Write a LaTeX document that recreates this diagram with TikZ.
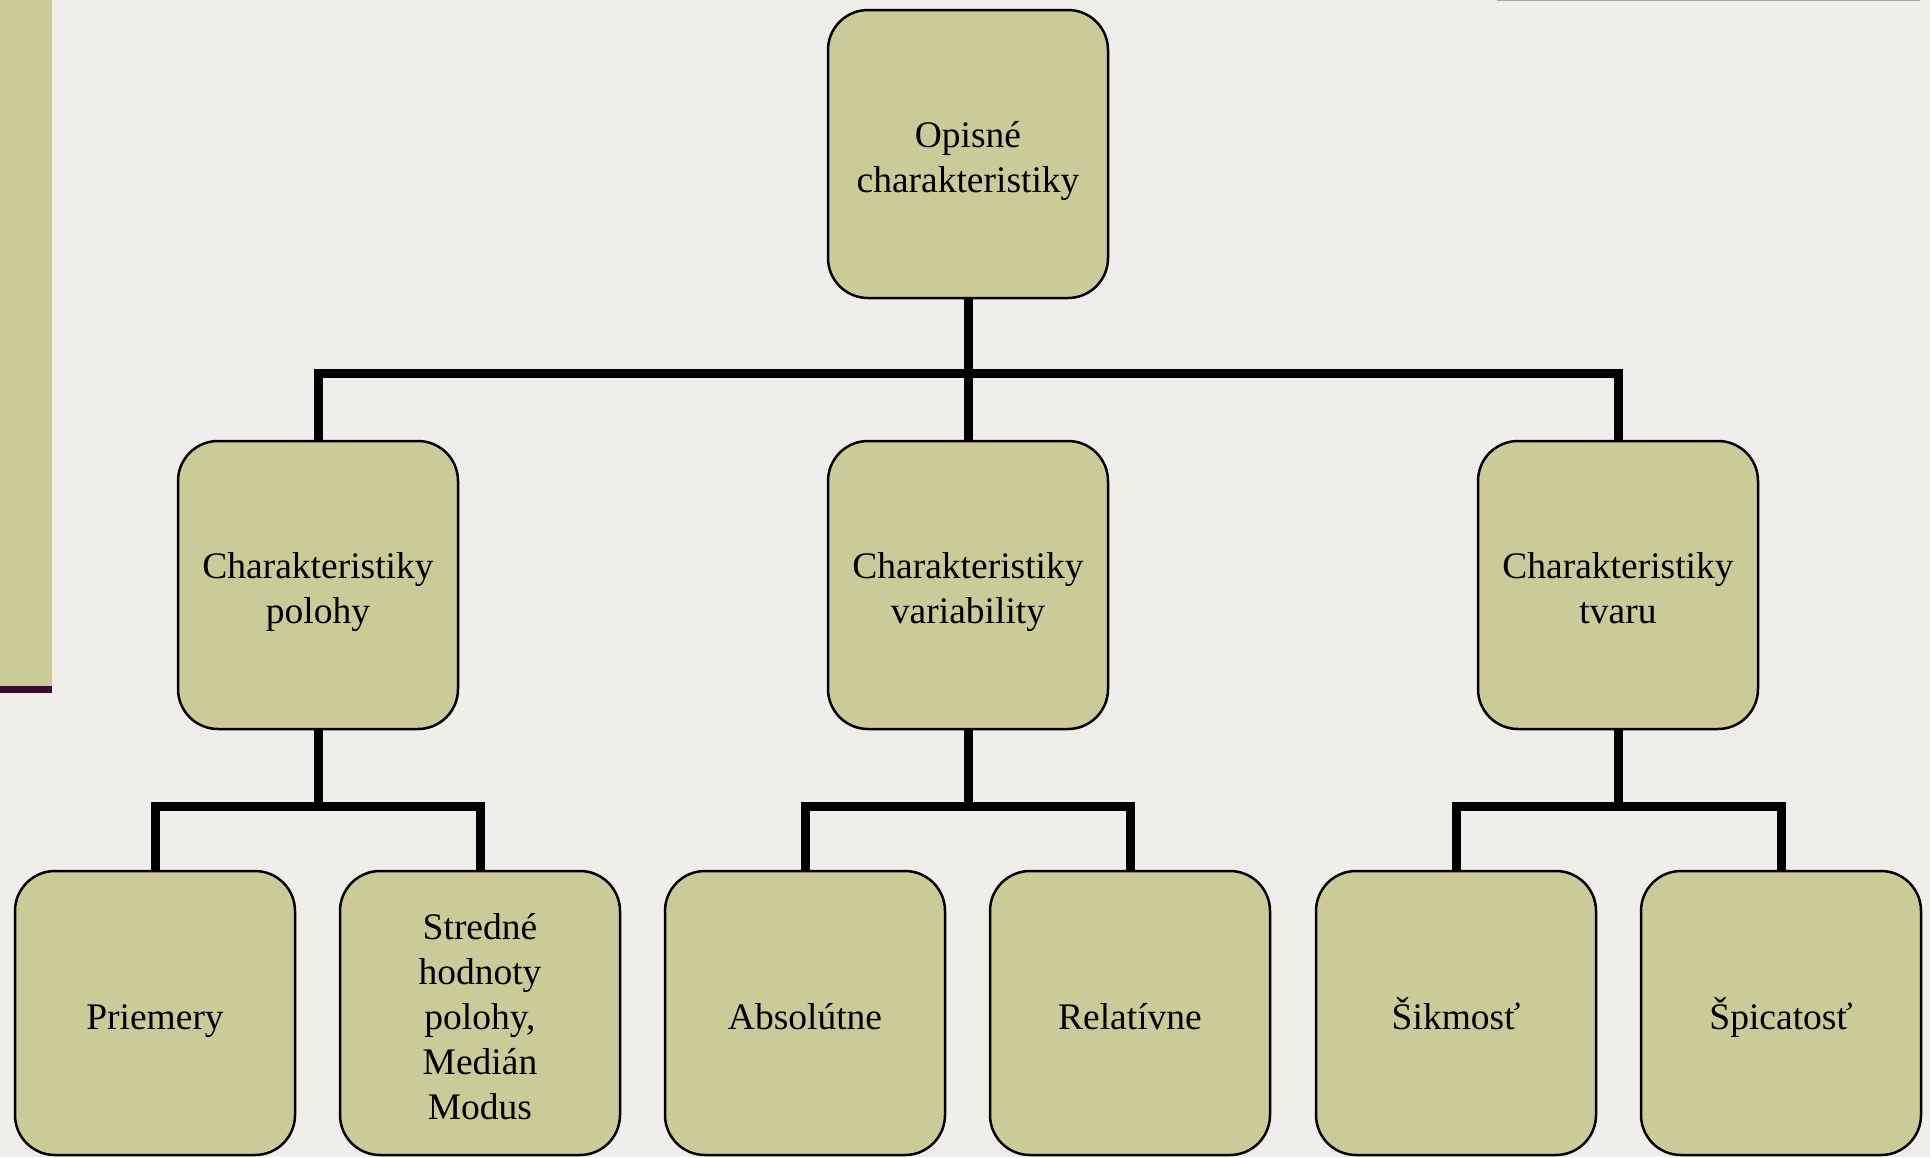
\documentclass[tikz,border=0pt]{standalone}
\usepackage{fontspec}
\setmainfont{Liberation Serif}
\definecolor{boxfill}{HTML}{CBCB99}
\definecolor{bgc}{HTML}{EFEEEB}
\definecolor{barline}{HTML}{3A0A32}
\begin{document}
\begin{tikzpicture}[x=1pt,y=-1pt,
  box/.style={draw=black, line width=2.5pt, fill=boxfill, rounded corners=40pt,
    minimum width=280pt, minimum height=288pt, inner sep=0pt, align=center,
    text width=270pt, font=\fontsize{37.5}{45}\selectfont,
    execute at begin node={\rule{0pt}{45.5pt}}, execute at end node={\strut}},
  lowbox/.style={box, minimum height=284pt},
  conn/.style={line width=9pt, draw=black, line join=miter}]
\useasboundingbox (0,0) rectangle (1930,1157);
\fill[bgc] (0,0) rectangle (1930,1157);
\fill[boxfill] (0,0) rectangle (52,686);
\fill[barline] (0,686) rectangle (52,693);
\draw[gray!70, line width=2pt] (1497,0) -- (1920,0);

\node[box] (top) at (968,154) {Opisné\\charakteristiky};
\node[box] (m1) at (318,585) {Charakteristiky\\polohy};
\node[box] (m2) at (968,585) {Charakteristiky\\variability};
\node[box] (m3) at (1618,585) {Charakteristiky\\tvaru};

\node[lowbox] (b1) at (155,1013) {Priemery};
\node[lowbox] (b2) at (480,1013) {Stredné\\hodnoty\\polohy,\\Medián\\Modus};
\node[lowbox] (b3) at (805,1013) {Absolútne};
\node[lowbox] (b4) at (1130,1013) {Relatívne};
\node[lowbox] (b5) at (1456,1013) {Šikmosť};
\node[lowbox] (b6) at (1781,1013) {Špicatosť};

\coordinate (j0) at (968,373);
\coordinate (j1) at (318,806);
\coordinate (j2) at (968,806);
\coordinate (j3) at (1618,806);

\draw[conn] (top.south) -- (j0);
\draw[conn] (m1.north) |- (j0) -| (m3.north);
\draw[conn] (m2.north) -- (j0);

\draw[conn] (m1.south) -- (j1);
\draw[conn] (b1.north) |- (j1) -| (b2.north);
\draw[conn] (m2.south) -- (j2);
\draw[conn] (b3.north) |- (j2) -| (b4.north);
\draw[conn] (m3.south) -- (j3);
\draw[conn] (b5.north) |- (j3) -| (b6.north);
\end{tikzpicture}
\end{document}
